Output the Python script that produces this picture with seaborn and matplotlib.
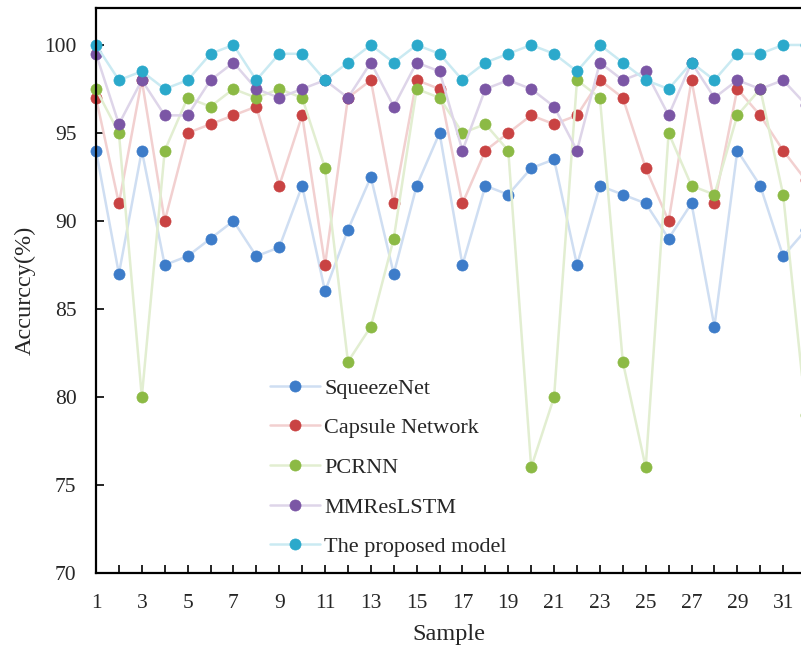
import numpy as np
import pandas as pd
import matplotlib
matplotlib.use("Agg")
import matplotlib.pyplot as plt
import seaborn as sns
from matplotlib.colors import to_rgb

# samples 1..32 (32 lies past the cropped right edge)
samples = list(range(1, 33))
squeezenet = [94, 87, 94, 87.5, 88, 89, 90, 88, 88.5, 92, 86, 89.5, 92.5, 87, 92, 95,
              87.5, 92, 91.5, 93, 93.5, 87.5, 92, 91.5, 91, 89, 91, 84, 94, 92, 88, 89.5]
capsule = [97, 91, 98, 90, 95, 95.5, 96, 96.5, 92, 96, 87.5, 97, 98, 91, 98, 97.5,
           91, 94, 95, 96, 95.5, 96, 98, 97, 93, 90, 98, 91, 97.5, 96, 94, 92.3]
pcrnn = [97.5, 95, 80, 94, 97, 96.5, 97.5, 97, 97.5, 97, 93, 82, 84, 89, 97.5, 97,
         95, 95.5, 94, 76, 80, 98, 97, 82, 76, 95, 92, 91.5, 96, 97.5, 91.5, 79]
mmreslstm = [99.5, 95.5, 98, 96, 96, 98, 99, 97.5, 97, 97.5, 98, 97, 99, 96.5, 99, 98.5,
             94, 97.5, 98, 97.5, 96.5, 94, 99, 98, 98.5, 96, 99, 97, 98, 97.5, 98, 96.6]
proposed = [100, 98, 98.5, 97.5, 98, 99.5, 100, 98, 99.5, 99.5, 98, 99, 100, 99, 100, 99.5,
            98, 99, 99.5, 100, 99.5, 98.5, 100, 99, 98, 97.5, 99, 98, 99.5, 99.5, 100, 100]

models = ["SqueezeNet", "Capsule Network", "PCRNN", "MMResLSTM", "The proposed model"]
colors = ["#3D7CC9", "#C94343", "#8CBA45", "#7B56A5", "#2BA9CB"]
x_ticks = list(range(1, 32, 2))
y_ticks = [70, 75, 80, 85, 90, 95, 100]

df = pd.DataFrame({
    "Sample": samples * 5,
    "Accuracy": squeezenet + capsule + pcrnn + mmreslstm + proposed,
    "Model": sum([[m] * len(samples) for m in models], []),
})

sns.set_style("ticks")
plt.rcParams["font.family"] = ["Liberation Serif", "DejaVu Serif"]

fig = plt.figure(figsize=(8.01, 6.48), dpi=100)
ax = fig.add_axes([96 / 801, 1 - 573 / 648, 1 - 96 / 801, (573 - 8) / 648])

sns.lineplot(data=df, x="Sample", y="Accuracy", hue="Model", hue_order=models,
             palette=colors, marker="o", markersize=8, linewidth=1.8, ax=ax, legend=False)

# light lines, solid markers
for line, c in zip(ax.lines, colors):
    r, g, b = to_rgb(c)
    light = (1 - 0.25 * (1 - r), 1 - 0.25 * (1 - g), 1 - 0.25 * (1 - b))
    line.set_color(light)
    line.set_markerfacecolor(c)
    line.set_markeredgecolor(c)
    line.set_markeredgewidth(0.5)
    line.set_clip_on(False)

ax.set_xlim(1, 31.78)
ax.set_ylim(70, 102.1)
ax.set_xticks(x_ticks)
ax.set_xticks(samples[:31], minor=True)
ax.set_yticks(y_ticks)
ax.tick_params(axis="both", which="both", direction="in", labelsize=15.5, color="black")
ax.tick_params(axis="both", which="major", length=6, width=1.2)
ax.tick_params(axis="x", which="both", pad=15)
ax.tick_params(axis="y", which="major", pad=14)
ax.tick_params(axis="x", which="minor", length=6, width=1.2)
for side in ["left", "bottom", "top"]:
    ax.spines[side].set_linewidth(1.6)
    ax.spines[side].set_color("black")
ax.spines["right"].set_visible(False)

ax.set_xlabel("Sample", fontsize=17.5, labelpad=8)
ax.set_ylabel("Accurccy(%)", fontsize=17.5, labelpad=6)

ax.legend(handles=ax.lines[:5], labels=models, loc="upper left",
          bbox_to_anchor=(270 / 801, 1 - 378 / 648), bbox_transform=fig.transFigure,
          frameon=False, fontsize=16, handlelength=2.25, handletextpad=0.2,
          labelspacing=0.86, borderpad=0, borderaxespad=0)

fig.savefig("out.png", dpi=100)
